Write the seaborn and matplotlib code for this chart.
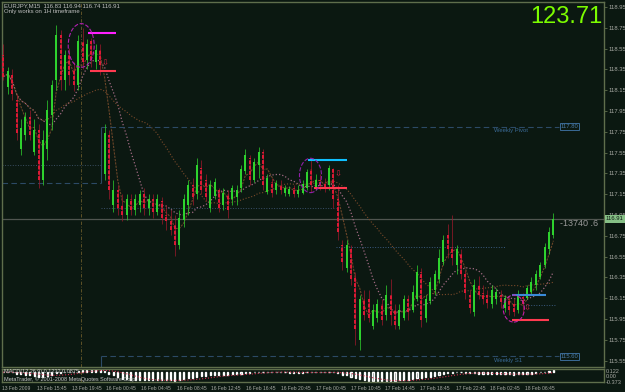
import numpy as np
import pandas as pd
import matplotlib
matplotlib.use("Agg")
import matplotlib.pyplot as plt
import seaborn as sns
from matplotlib.patches import Ellipse

# ---------------- data (EURJPY M15) ----------------
opens = [118.49, 118.18, 118.30, 118.06, 117.58, 117.72, 117.89, 117.56, 117.77, 117.29,
         117.58, 117.91, 118.25, 118.68, 118.25, 118.49, 118.35, 118.20, 118.62, 118.44,
         118.62, 118.42, 118.54, 117.34, 117.72, 117.05, 117.19, 117.05, 116.95, 117.10,
         117.00, 117.05, 117.15, 117.02, 117.10, 116.98, 117.08, 116.95, 116.89, 116.86,
         116.66, 116.90, 117.05, 117.24, 117.15, 117.40, 117.29, 117.02, 117.13, 117.19,
         117.05, 117.15, 117.10, 117.12, 117.21, 117.37, 117.50, 117.29, 117.43, 117.56,
         117.17, 117.27, 117.19, 117.24, 117.16, 117.15, 117.21, 117.15, 117.16, 117.21,
         117.39, 117.21, 117.29, 117.26, 117.24, 117.39, 117.10, 116.66, 116.44, 116.62,
         116.35, 115.75, 116.14, 116.14, 115.88, 115.96, 116.09, 115.99, 116.18, 116.04,
         115.88, 115.96, 116.14, 116.04, 116.14, 116.40, 115.96, 116.12, 116.23, 116.33,
         116.50, 116.76, 116.64, 116.47, 116.57, 116.38, 116.18, 116.02, 116.28, 116.20,
         116.18, 116.09, 116.14, 116.18, 116.06, 116.14, 116.09, 116.04, 116.16, 116.15,
         116.21, 116.28, 116.35, 116.47, 116.62, 116.76]
highs = [118.59, 118.37, 118.35, 118.11, 117.87, 117.94, 117.96, 117.87, 117.82, 117.77,
         118.06, 118.25, 118.78, 118.73, 118.54, 118.56, 118.42, 118.68, 118.75, 118.64,
         118.65, 118.59, 118.59, 117.82, 117.77, 117.29, 117.24, 117.15, 117.15, 117.15,
         117.15, 117.19, 117.21, 117.15, 117.15, 117.15, 117.12, 117.05, 117.00, 116.95,
         117.00, 117.15, 117.29, 117.31, 117.50, 117.48, 117.34, 117.29, 117.31, 117.21,
         117.21, 117.19, 117.24, 117.24, 117.43, 117.58, 117.53, 117.50, 117.60, 117.58,
         117.34, 117.31, 117.29, 117.29, 117.24, 117.23, 117.24, 117.24, 117.29, 117.39,
         117.48, 117.34, 117.34, 117.31, 117.43, 117.40, 117.24, 116.71, 116.71, 116.66,
         116.40, 116.18, 116.23, 116.23, 116.09, 116.14, 116.14, 116.28, 116.33, 116.09,
         116.09, 116.18, 116.18, 116.28, 116.47, 116.44, 116.18, 116.35, 116.42, 116.62,
         116.76, 116.86, 116.95, 116.66, 116.62, 116.42, 116.23, 116.33, 116.36, 116.28,
         116.23, 116.28, 116.25, 116.23, 116.18, 116.17, 116.14, 116.23, 116.20, 116.28,
         116.35, 116.42, 116.50, 116.68, 116.83, 116.97]
lows = [118.25, 118.11, 118.06, 117.67, 117.53, 117.67, 117.67, 117.53, 117.21, 117.24,
        117.48, 117.77, 118.15, 118.15, 118.15, 118.20, 118.14, 118.15, 118.35, 118.35,
        118.37, 118.35, 118.30, 117.29, 117.10, 116.98, 116.95, 116.89, 116.90, 116.95,
        116.95, 116.98, 116.95, 116.95, 116.92, 116.95, 116.86, 116.81, 116.76, 116.56,
        116.62, 116.83, 116.95, 117.05, 117.10, 117.15, 117.08, 116.98, 117.10, 116.98,
        117.00, 116.92, 117.05, 117.05, 117.17, 117.34, 117.24, 117.27, 117.31, 117.19,
        117.15, 117.12, 117.15, 117.15, 117.13, 117.13, 117.12, 117.12, 117.15, 117.19,
        117.17, 117.19, 117.19, 117.17, 117.19, 117.02, 116.71, 116.42, 116.40, 116.28,
        115.70, 115.65, 115.94, 115.92, 115.85, 115.92, 115.89, 115.94, 115.89, 115.85,
        115.85, 115.94, 115.94, 116.02, 116.12, 115.87, 115.92, 116.09, 116.18, 116.30,
        116.47, 116.54, 116.47, 116.38, 116.33, 116.14, 116.01, 115.98, 116.14, 116.09,
        116.06, 116.06, 116.09, 116.06, 116.02, 115.99, 115.98, 116.01, 116.02, 116.14,
        116.18, 116.23, 116.33, 116.44, 116.57, 116.73]
closes = [118.28, 118.33, 118.11, 117.74, 117.79, 117.89, 117.72, 117.77, 117.29, 117.67,
          117.96, 118.20, 118.68, 118.25, 118.49, 118.30, 118.20, 118.62, 118.42, 118.59,
          118.44, 118.54, 118.39, 117.74, 117.19, 117.19, 117.02, 116.95, 117.10, 117.00,
          117.10, 117.15, 117.02, 117.10, 116.98, 117.10, 116.92, 116.89, 116.81, 116.66,
          116.92, 117.10, 117.24, 117.12, 117.43, 117.19, 117.12, 117.24, 117.27, 117.02,
          117.16, 117.00, 117.21, 117.19, 117.39, 117.53, 117.29, 117.46, 117.56, 117.24,
          117.31, 117.16, 117.26, 117.19, 117.21, 117.20, 117.15, 117.19, 117.25, 117.36,
          117.24, 117.29, 117.23, 117.21, 117.40, 117.10, 116.79, 116.50, 116.66, 116.33,
          115.85, 116.14, 115.99, 115.96, 116.04, 116.09, 115.94, 116.18, 115.99, 115.89,
          116.04, 116.14, 116.02, 116.21, 116.40, 115.94, 116.14, 116.31, 116.38, 116.54,
          116.71, 116.62, 116.54, 116.62, 116.38, 116.20, 116.06, 116.28, 116.18, 116.14,
          116.10, 116.23, 116.21, 116.11, 116.15, 116.04, 116.02, 116.18, 116.09, 116.25,
          116.31, 116.38, 116.47, 116.64, 116.79, 116.91]

price_ticks = [118.95, 118.75, 118.55, 118.35, 118.15, 117.95, 117.75, 117.55, 117.35,
               117.15, 116.95, 116.75, 116.55, 116.35, 116.15, 115.95, 115.75, 115.55]
time_labels = ["13 Feb 2009", "13 Feb 15:45", "13 Feb 19:45", "16 Feb 00:45", "16 Feb 04:45",
               "16 Feb 08:45", "16 Feb 12:45", "16 Feb 16:45", "16 Feb 20:45", "17 Feb 00:45",
               "17 Feb 10:45", "17 Feb 14:45", "17 Feb 18:45", "17 Feb 22:45", "18 Feb 02:45",
               "18 Feb 06:45"]
current_price = 116.91
weekly_levels = [117.80, 115.59]          # Weekly Pivot, Weekly S1
weekly_names = ["Weekly Pivot", "Weekly S1"]
weekly_boxes = ["117.80", "115.60"]
prev_levels = [117.43, 117.26]            # previous week lines (left part)
daily_levels = [117.02, 116.64, 116.08]   # dotted daily levels
signal_hi = [118.70, 117.48, 116.18]      # upper signal lines
signal_lo = [118.33, 117.21, 115.94]      # lower signal lines
sub_limits = [-0.373, 0.122]

# ---------------- style ----------------
sns.set_style("dark")
BG = "#0b1811"
FRAME = "#5f6e4c"
TXT = "#a8aaa4"
GREEN = "#2fd62f"
RED = "#e01a36"
plt.rcParams["font.family"] = ["Liberation Sans Narrow", "Liberation Sans", "DejaVu Sans"]

W, H = 625, 392
def rect(x0, y0, x1, y1):
    return [x0 / W, 1 - y1 / H, (x1 - x0) / W, (y1 - y0) / H]
def fp(x, y):
    return x / W, 1 - y / H

fig = plt.figure(figsize=(6.25, 3.92), dpi=100, facecolor=BG)
ax = fig.add_axes(rect(2, 2, 604, 367))
axs = fig.add_axes(rect(2, 369, 604, 382), sharex=ax)
for a in (ax, axs):
    a.set_facecolor(BG)
    a.grid(False)
    for s in a.spines.values():
        s.set_color(FRAME)
        s.set_linewidth(1.0)

o = np.array(opens); h = np.array(highs); l = np.array(lows); c = np.array(closes)
n = len(c)
idx = np.arange(n)
up = c >= o

# ---------------- candles ----------------
ax.vlines(idx[up], l[up], h[up], color=GREEN, lw=0.5, zorder=3)
ax.vlines(idx[up], o[up], c[up], color=GREEN, lw=1.4, zorder=3)
ax.vlines(idx[~up], l[~up], h[~up], color="#a0182c", lw=0.5, zorder=3)
ax.vlines(idx[~up], c[~up], o[~up], color=RED, lw=1.4, linestyles=[(0, (2, 0.7))], zorder=3)

# ---------------- moving averages ----------------
df = pd.DataFrame({"i": idx, "close": c})
df["ma_fast"] = df["close"].rolling(4, min_periods=1).mean()
df["ma_mid"] = df["close"].rolling(10, min_periods=1).mean()
df["ma_slow"] = df["close"].rolling(24, min_periods=1).mean()
sns.lineplot(data=df, x="i", y="ma_fast", ax=ax, color="#6b4528", lw=0.8,
             linestyle=(0, (2, 1)), legend=False, zorder=2)
sns.lineplot(data=df, x="i", y="ma_mid", ax=ax, color="#a06a82", lw=0.9,
             linestyle=":", legend=False, zorder=2)
sns.lineplot(data=df, x="i", y="ma_slow", ax=ax, color="#7a4a2a", lw=0.8,
             linestyle=":", legend=False, zorder=2)

# ---------------- horizontal levels ----------------
ax.axhline(current_price, color="#505550", lw=0.9, zorder=1)
ax.hlines(prev_levels[0], -0.3, 22.3, color="#3a4e62", lw=0.7, linestyles=":")
ax.hlines(prev_levels[1], -0.3, 22.3, color="#2c4a66", lw=0.8, linestyles=(0, (5, 3)))
ax.vlines(22.3, weekly_levels[0], prev_levels[1], color="#2c4a66", lw=0.8)
ax.vlines(22.3, 115.488, weekly_levels[1], color="#2c4a66", lw=0.8)
for lv, name, box in zip(weekly_levels, weekly_names, weekly_boxes):
    ax.hlines(lv, 22.3, 126.2, color="#2c4a66", lw=0.8, linestyles=(0, (5, 3)))
    ax.text(111.5, lv - 0.04, name, color="#3a6a96", fontsize=4.2, va="center", ha="left")
    ax.text(126.6, lv, box, color="#4a7aa6", fontsize=4.2, va="center", ha="left",
            bbox=dict(boxstyle="square,pad=0.15", fc=BG, ec="#3a6a96", lw=0.7))
ax.hlines(daily_levels[0], 22.3, 75.6, color="#3a506a", lw=0.7, linestyles=":")
ax.hlines(daily_levels[1], 75.6, 114.0, color="#3a5a80", lw=0.7, linestyles=":")
ax.hlines(daily_levels[2], 118.0, 125.7, color="#3a5a80", lw=0.7, linestyles=":")

# signal lines
hi_cols = ["#ff20ff", "#10c0ff", "#3a8ad8"]
hi_rng = [(19.3, 25.7), (69.3, 78.2), (115.5, 123.4)]
lo_rng = [(19.8, 25.7), (70.5, 78.2), (115.5, 123.9)]
for v, col, (a0, a1) in zip(signal_hi, hi_cols, hi_rng):
    ax.hlines(v, a0, a1, color=col, lw=1.5, zorder=4)
for v, (a0, a1) in zip(signal_lo, lo_rng):
    ax.hlines(v, a0, a1, color="#ff3a50", lw=1.5, zorder=4)

# ellipses and arrows
ax.add_patch(Ellipse((17.7, 118.58), 5.9, 0.42, fill=False, ec="#b020b0", lw=0.8, ls="--", zorder=4))
ax.add_patch(Ellipse((69.8, 117.33), 5.0, 0.33, fill=False, ec="#9020a8", lw=0.8, ls="--", zorder=4))
ax.add_patch(Ellipse((116.0, 116.05), 4.8, 0.26, fill=False, ec="#c020a8", lw=0.8, ls="--", zorder=4))
for xa, ya in [(23.2, 118.41), (76.1, 117.34), (119.1, 116.05)]:
    ax.text(xa, ya, "\u21e9", color="#d02040", fontsize=6, ha="center", va="center",
            family="DejaVu Sans", zorder=5)

# vertical dash-dot line
for a in (ax, axs):
    a.axvline(17.7, color="#6a5a2a", lw=0.6, linestyle=(0, (4, 2, 1, 2)), zorder=1)

# ---------------- axes limits & ticks ----------------
ax.set_xlim(-0.3, 136.5)
ax.set_ylim(115.488, 118.998)
ax.set_xlabel(""); ax.set_ylabel("")
ax.yaxis.tick_right()
ax.set_yticks(price_ticks)
ax.set_yticklabels([f"{p:.2f}" for p in price_ticks])
ax.tick_params(axis="y", colors=FRAME, labelcolor=TXT, labelsize=4.2, length=2, width=0.6, pad=1.2)
ax.tick_params(axis="x", bottom=False, labelbottom=False)

# ---------------- MACD sub-window ----------------
s = pd.Series(c)
macd = s.ewm(span=12, adjust=False).mean() - s.ewm(span=26, adjust=False).mean()
sig = macd.rolling(9, min_periods=1).mean()
axs.bar(idx, macd.clip(sub_limits[0], sub_limits[1]), width=0.25, color="#7e8480", zorder=2)
sns.lineplot(x=idx, y=sig.values, ax=axs, color="#d03050", lw=0.8, linestyle=":", legend=False, zorder=3)
axs.set_ylim(sub_limits[0], sub_limits[1])
axs.set_yticks([])
axs.set_xlabel(""); axs.set_ylabel("")
tick_pos = [-0.3, 7.7, 15.6, 23.4, 31.3, 39.5, 47.2, 55.1, 63.1, 71.0, 79.0, 86.7, 94.7, 102.9, 110.6, 118.6]
axs.set_xticks(tick_pos)
axs.set_xticklabels(time_labels, ha="left")
axs.tick_params(axis="x", colors=FRAME, labelcolor=TXT, labelsize=3.6, length=2, width=0.6, pad=1.0)

axs.text(0.004, 0.78, "MACD(12,26,9) 0.1232 0.0875", transform=axs.transAxes, color="#c8c8c8",
         fontsize=4.0, va="center", ha="left", zorder=5)
axs.text(0.004, 0.25, "MetaTrader, \u00a9 2001-2008 MetaQuotes Software Corp.", transform=axs.transAxes,
         color="#c8c8c8", fontsize=4.0, va="center", ha="left", zorder=5)
for yy, t in [(371.5, "0.122"), (376.5, "0.00"), (382, "-0.373")]:
    fig.text(*fp(606, yy), t, color=TXT, fontsize=4.0, va="center", ha="left")

# ---------------- texts ----------------
fig.text(*fp(4, 6), "EURJPY,M15  116.83 116.94 116.74 116.91", color="#c0c0c0", fontsize=4.3, va="center")
fig.text(*fp(4, 12), "Only works on 1H timeframe", color="#c0c0c0", fontsize=4.3, va="center")
fig.text(*fp(603, 17), "123.71", color="#7cfc00", fontsize=17, va="center", ha="right",
         family=["Liberation Sans", "DejaVu Sans"])
ax.text(126.4, current_price - 0.04, "-13740 .6", color="#9a9a9a", fontsize=6.5, va="center", ha="left",
        family=["Liberation Sans", "DejaVu Sans"])
fig.text(*fp(606, 219), f"{current_price:.2f}", color=BG, fontsize=4.2, va="center", ha="left",
         bbox=dict(boxstyle="square,pad=0.2", fc="#86c086", ec="none"))

fig.savefig("out.png", dpi=100, facecolor=BG)
